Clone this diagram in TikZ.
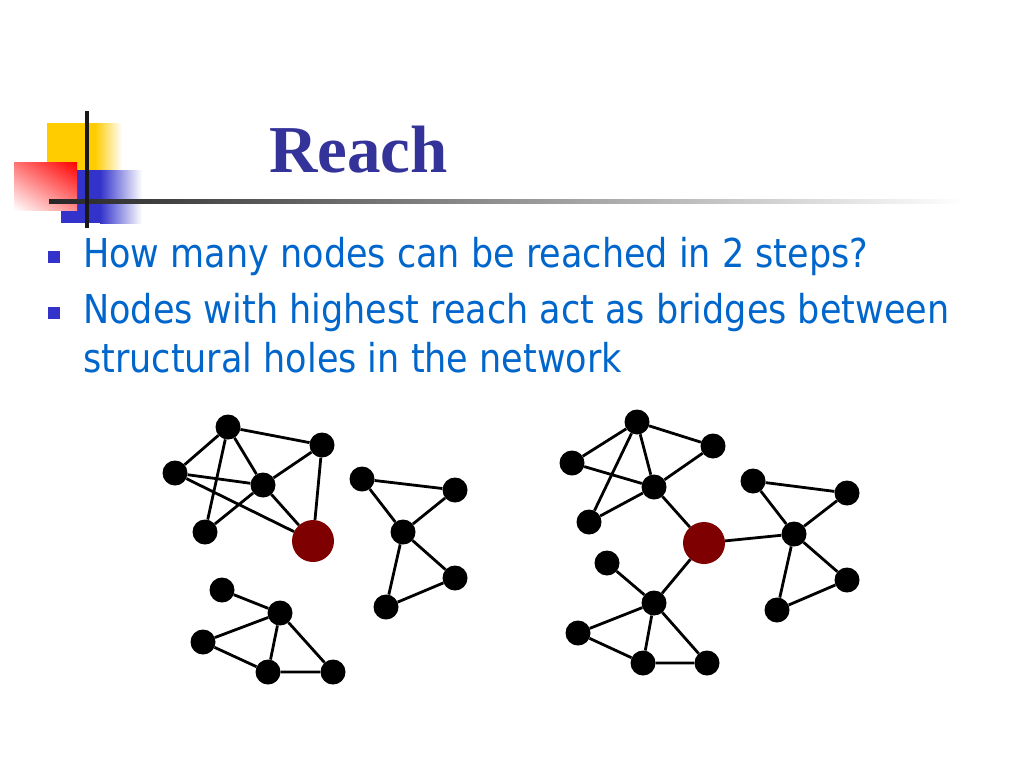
\documentclass[tikz,border=0pt]{standalone}
\usepackage{fontspec}
\usetikzlibrary{shadings}
\setmainfont{Liberation Serif}
\newfontfamily\bodyfont[FakeStretch=0.88]{DejaVu Sans}
\newfontfamily\titlefont{Liberation Serif}
\definecolor{titleblue}{HTML}{333399}
\definecolor{textblue}{HTML}{0066CC}
\definecolor{bulletblue}{HTML}{3333CC}
\definecolor{hubred}{HTML}{7F0000}
\definecolor{logoyellow}{HTML}{FFCC00}
\definecolor{logoblue}{HTML}{3333CC}
\begin{document}
\begin{tikzpicture}[x=1pt,y=-1pt,
  dot/.style={circle,fill=black,inner sep=0pt,minimum size=25pt},
  hub/.style={circle,fill=hubred,inner sep=0pt,minimum size=42pt},
  link/.style={line width=2.8pt,black},
  bodytext/.style={inner sep=0pt,anchor=base west,text=textblue,font=\bodyfont\fontsize{39.8}{49}\selectfont},
  bulletsq/.style={fill=bulletblue,draw=none}]
\useasboundingbox (0,0) rectangle (1024,768);
\fill[white] (0,0) rectangle (1024,768);
% logo
\fill[logoyellow] (47,123) rectangle (95,185);
\shade[left color=logoyellow,right color=white] (95,123) rectangle (122,185);
\fill[logoblue] (61,170) rectangle (100,223);
\shade[left color=logoblue,right color=white] (100,170) rectangle (142,223);
\shade[upper right=red,lower left=white,upper left=red!55!white,lower right=red!45!white] (14,162) rectangle (77,210);
\shade[left color=black!85,right color=white] (49,199) rectangle (965,203);
\fill[black!90] (85,111) rectangle (89,228);
% title
\node[inner sep=0pt,anchor=base west,text=titleblue,font=\titlefont\bfseries\fontsize{67}{72}\selectfont] (title) at (269,172) {Reach};
% bullets
\fill[bulletsq] (48,251) rectangle (60,263);
\fill[bulletsq] (48,307) rectangle (60,319);
\node[bodytext] (b1) at (83,267) {How many nodes can be reached in 2 steps?};
\node[bodytext] (b2) at (83,323) {Nodes with highest reach act as bridges between};
\node[bodytext] (b3) at (83,372) {structural holes in the network};
% left graph
\node[dot] (a1) at (228,427) {};
\node[dot] (a2) at (322,445) {};
\node[dot] (a3) at (175,473) {};
\node[dot] (a4) at (263,485) {};
\node[dot] (a5) at (205,532) {};
\node[hub] (r1) at (313,541) {};
\node[dot] (b1n) at (362,479) {};
\node[dot] (b2n) at (455,490) {};
\node[dot] (b3n) at (403,532) {};
\node[dot] (b4n) at (455,578) {};
\node[dot] (b5n) at (386,607) {};
\node[dot] (c1) at (222,590) {};
\node[dot] (c2) at (280,613) {};
\node[dot] (c3) at (203,642) {};
\node[dot] (c4) at (268,672) {};
\node[dot] (c5) at (333,672) {};
% right graph
\node[dot] (d1) at (637,422) {};
\node[dot] (d2) at (713,446) {};
\node[dot] (d3) at (572,463) {};
\node[dot] (d4) at (654,487) {};
\node[dot] (d5) at (589,522) {};
\node[hub] (r2) at (704,543) {};
\node[dot] (e1) at (753,481) {};
\node[dot] (e2) at (847,493) {};
\node[dot] (e3) at (794,534) {};
\node[dot] (e4) at (847,580) {};
\node[dot] (e5) at (777,610) {};
\node[dot] (f1) at (607,563) {};
\node[dot] (f2) at (654,603) {};
\node[dot] (f3) at (578,633) {};
\node[dot] (f4) at (643,663) {};
\node[dot] (f5) at (707,663) {};
\draw[link] (a1)--(a2) (a1)--(a3) (a1)--(a4) (a1)--(a5) (a3)--(a4) (a3)--(r1)
  (a4)--(a2) (a4)--(a5) (a4)--(r1) (a2)--(r1);
\draw[link] (b1n)--(b2n) (b1n)--(b3n) (b2n)--(b3n) (b3n)--(b4n) (b3n)--(b5n) (b4n)--(b5n);
\draw[link] (c1)--(c2) (c2)--(c3) (c2)--(c4) (c2)--(c5) (c3)--(c4) (c4)--(c5);
\draw[link] (d1)--(d2) (d1)--(d3) (d1)--(d4) (d1)--(d5) (d3)--(d4) (d4)--(d2) (d4)--(d5) (d4)--(r2);
\draw[link] (e1)--(e2) (e1)--(e3) (e2)--(e3) (e3)--(e4) (e3)--(e5) (e4)--(e5) (r2)--(e3);
\draw[link] (f1)--(f2) (f2)--(f3) (f2)--(f4) (f2)--(f5) (f3)--(f4) (f4)--(f5) (f2)--(r2);
\end{tikzpicture}
\end{document}
